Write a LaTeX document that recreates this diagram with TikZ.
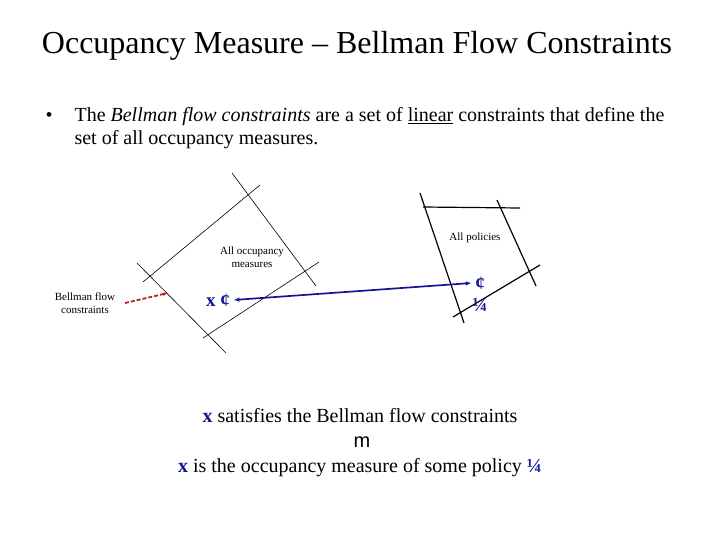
\documentclass[tikz,border=0pt]{standalone}
\usepackage{fontspec}
\setmainfont{Liberation Serif}
\newfontfamily\arial{Liberation Sans}
\usetikzlibrary{arrows.meta}
\definecolor{dblue}{RGB}{20,20,150}
\definecolor{dred}{RGB}{190,30,30}
\begin{document}
\begin{tikzpicture}[x=1pt,y=-1pt,
  thin line/.style={black,line width=0.6pt},
  thick line/.style={black,line width=1.2pt},
  small/.style={font=\fontsize{11}{13}\selectfont,align=center},
  body/.style={font=\fontsize{20}{23}\selectfont}]
\useasboundingbox (0,0) rectangle (720,540);
\node[font=\fontsize{32}{36}\selectfont] (title) at (357,46) {Occupancy Measure – Bellman Flow Constraints};
\node[body,anchor=base west] (bul) at (42,122) {•};
\node[body,anchor=base west,align=left] (l1) at (71,122) {The \textit{Bellman flow constraints} are a set of \underline{linear} constraints that define the};
\node[body,anchor=base west] (l2) at (71,145) {set of all occupancy measures.};
% left region
\draw[thin line] (232,173) -- (316,286);
\draw[thin line] (137,263) -- (226,353);
\draw[thin line] (143,282) -- (260,185);
\draw[thin line] (203,338) -- (319,262);
% right region
\draw[thick line] (420,193) -- (464,323);
\draw[thick line] (423,207) -- (520,208);
\draw[thick line] (497,200) -- (536,286);
\draw[thick line] (453,317) -- (540,265);
\node[small] (occ) at (252,257) {All occupancy\\measures};
\node[small] (bfc) at (85,303) {Bellman flow\\constraints};
\node[small] (pol) at (475,238) {All policies};
\coordinate (rs) at (125,303);
\coordinate (re) at (168,293);
\draw[dred,line width=1.8pt,dash pattern=on 4pt off 2pt,-{Latex[length=5pt]}] (rs) -- (re);
\node[dblue,font=\bfseries\fontsize{19}{22}\selectfont] (xl) at (218,300) {x ¢};
\node[dblue,font=\bfseries\fontsize{19}{22}\selectfont] (pc) at (480,283) {¢};
\node[dblue,font=\bfseries\fontsize{20}{22}\selectfont] (pq) at (480,305) {¼};
\draw[dblue,line width=1.7pt,{Latex[length=6pt]}-{Latex[length=6pt]}] (xl.east) -- (pc.west);
\node[body] (b1) at (360,416) {\textcolor{dblue}{\textbf{x}} satisfies the Bellman flow constraints};
\node[font=\arial\fontsize{20}{23}\selectfont] (b2) at (362,442) {m};
\node[body] (b3) at (360,468) {\textcolor{dblue}{\textbf{x}} is the occupancy measure of some policy \textcolor{dblue}{\textbf{¼}}};
\end{tikzpicture}
\end{document}
